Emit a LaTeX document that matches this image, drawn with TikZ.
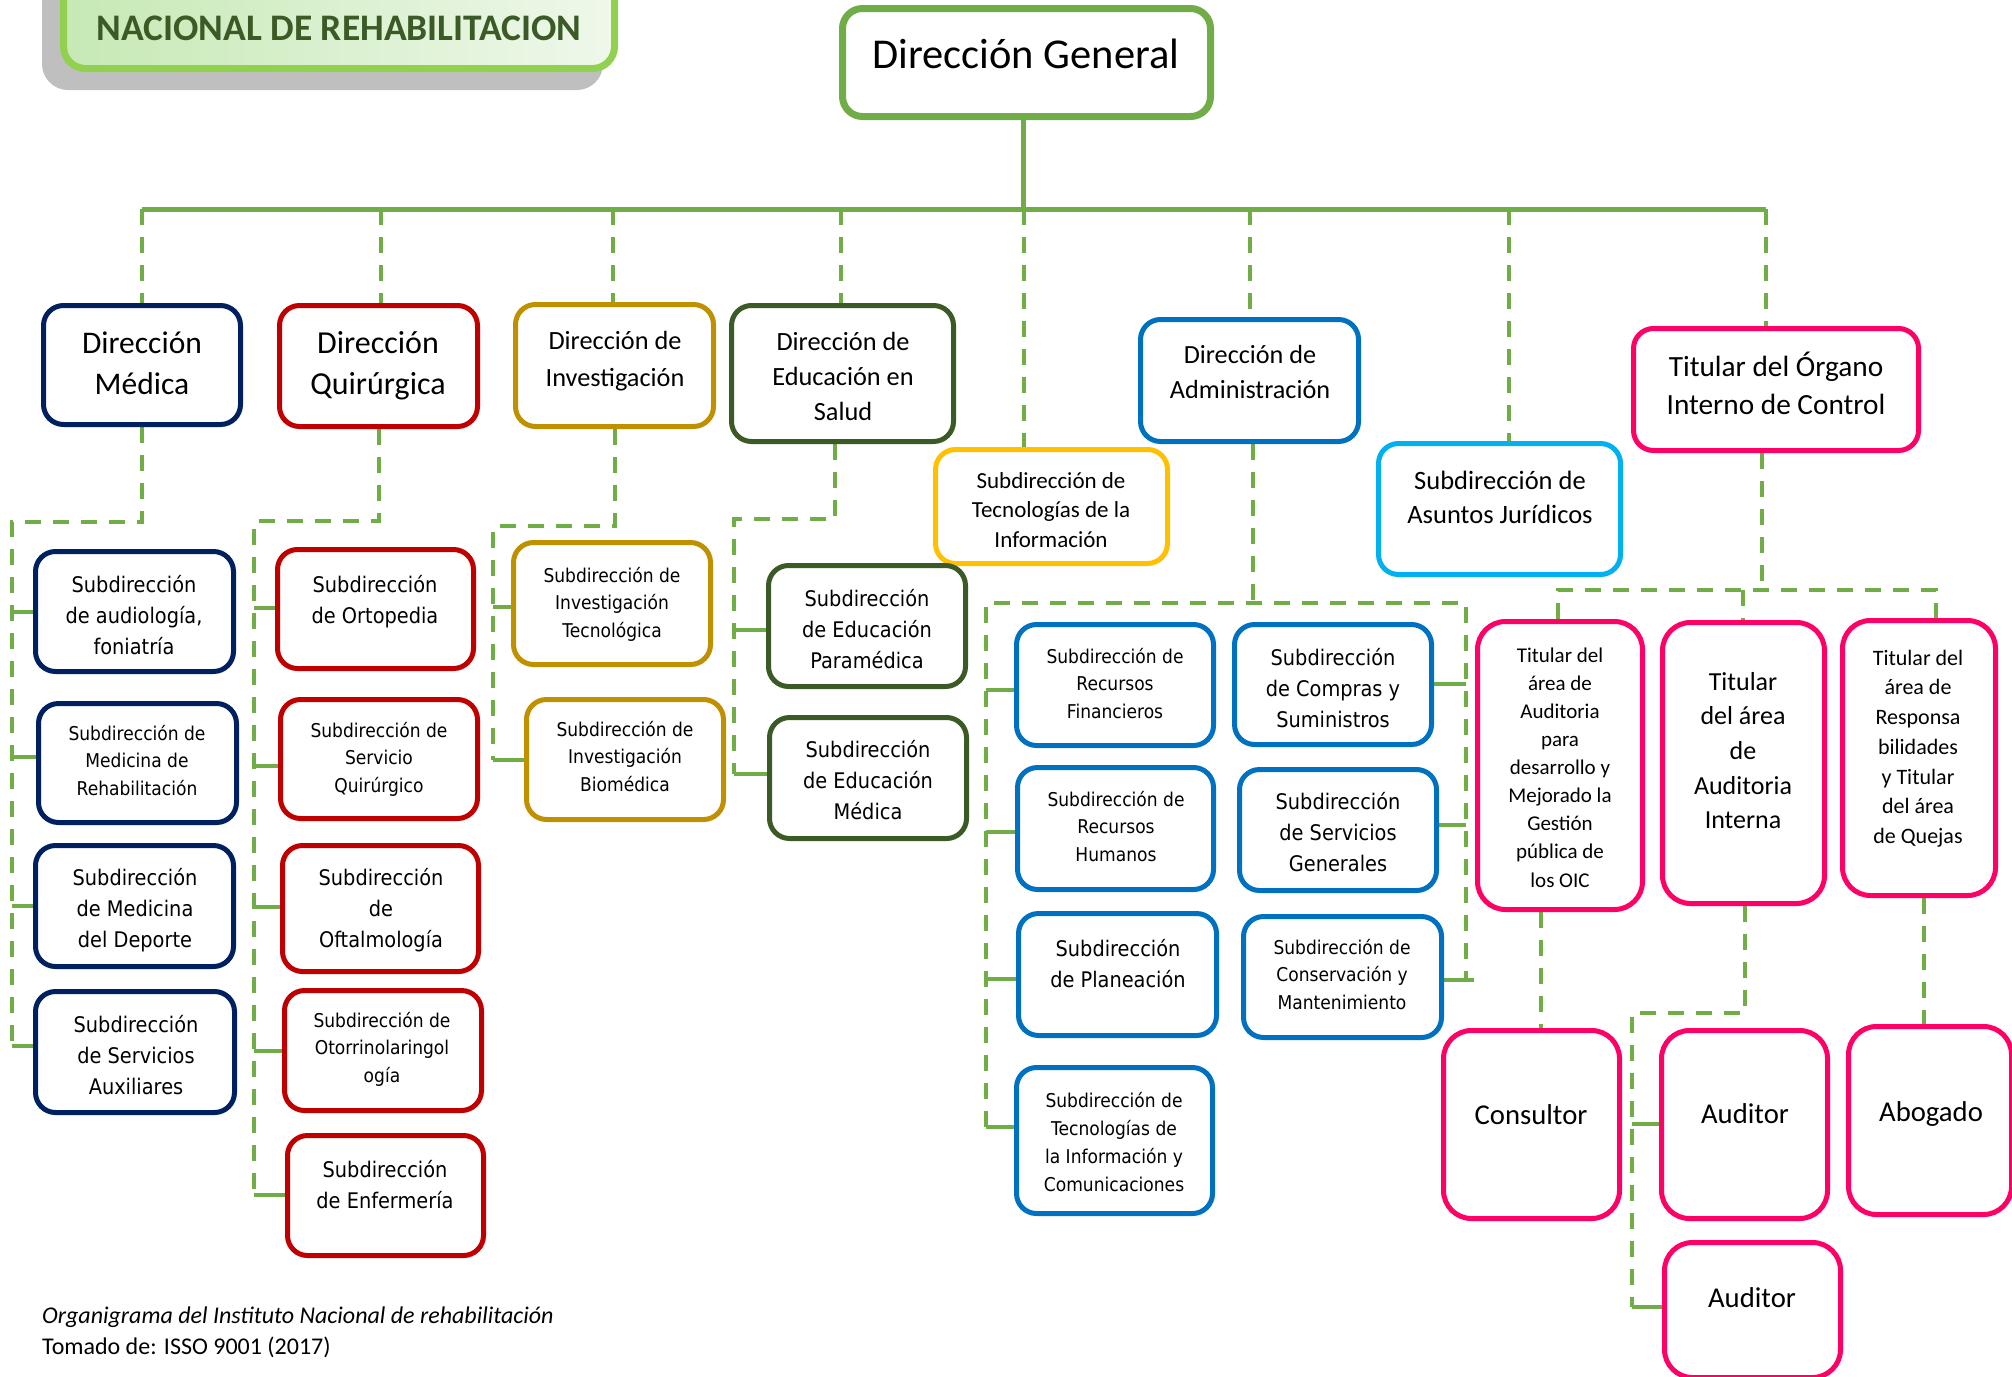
\documentclass[tikz,border=0pt]{standalone}
\usepackage{fontspec}
\setmainfont{Carlito}
\newfontfamily\vfont{DejaVu Sans}[FakeStretch=0.9]
\pgfdeclarelayer{bg}
\pgfsetlayers{bg,main}
\definecolor{lgreen}{HTML}{70AD47}
\definecolor{tgreen}{HTML}{92D050}
\definecolor{tfillL}{HTML}{C6E9B5}
\definecolor{tfillR}{HTML}{EFF8EB}
\definecolor{ttext}{HTML}{3B5A25}
\definecolor{shadowgray}{HTML}{BFBFBF}
\definecolor{navy}{HTML}{002060}
\definecolor{cred}{HTML}{C00000}
\definecolor{gold}{HTML}{BF9000}
\definecolor{dkgreen}{HTML}{3B5A25}
\definecolor{yel}{HTML}{FFC000}
\definecolor{cblue}{HTML}{0070C0}
\definecolor{lblue}{HTML}{00B0F0}
\definecolor{cpink}{HTML}{FF0066}
\tikzset{
  boxst/.style={draw, line width=5pt, rounded corners=20pt, fill=white, inner sep=0pt},
  dashg/.style={draw=lgreen, line width=4pt, dash pattern=on 16pt off 12pt},
  solg/.style={draw=lgreen, line width=5pt},
  stubg/.style={draw=lgreen, line width=4pt},
  txt/.style={anchor=north, align=center, inner sep=0pt, text=black},
}
% box: [extra]{name}{color}{x1}{y1}{x2}{y2}  (outer edges, pixels, y downward)
\newcommand\bx[7][]{\node[boxst, draw=#3, minimum width={#6-#4-5}, minimum height={#7-#5-5}, #1] (#2) at ({(#4+#6)/2},{(#5+#7)/2}) {};}
% text: {name}{x}{first baseline}{family}{size}{skip}{text}
\newcommand\tb[7]{\node[txt, font={#4\fontsize{#5}{#6}\selectfont}] (#1) at (#2,{#3-0.8*#5}) {\rule{0pt}{0.8em}#7};}
\begin{document}
\begin{tikzpicture}[x=1pt,y=-1pt]
\useasboundingbox (0,0) rectangle (2012,1376);

% title
\fill[shadowgray, rounded corners=26pt] (42,-40) rectangle (603,90);
\node[draw=tgreen, line width=7pt, rounded corners=22pt, left color=tfillL, right color=tfillR, minimum width=551pt, minimum height=107pt, inner sep=0pt] (title) at (339,15) {};
\node[anchor=base, inner sep=0pt, text=ttext, font={\bfseries\fontsize{37.5}{42}\selectfont}] (ttl) at (339,40) {NACIONAL DE REHABILITACION};

% top level
\bx[line width=7pt]{dg}{lgreen}{840}{6}{1213}{119}
\tb{tdg}{1026}{68}{}{42.5}{50}{Dirección General}

\bx{med}{navy}{41}{303}{243}{427}
\tb{tmed}{142}{353}{}{31.5}{41}{Dirección\\Médica}
\bx{qui}{cred}{277}{303}{480}{429}
\tb{tqui}{378}{353}{}{32}{41}{Dirección\\Quirúrgica}
\bx{inv}{gold}{513}{302}{716}{429}
\tb{tinv}{615}{349}{}{26.3}{37}{Dirección de\\Investigación}
\bx{edu}{dkgreen}{729}{303}{956}{444}
\tb{tedu}{843}{350}{}{26.3}{35}{Dirección de\\Educación en\\Salud}
\bx{ti}{yel}{933}{447}{1170}{566}
\tb{tti}{1051}{488}{}{23}{29.5}{Subdirección de\\Tecnologías de la\\Información}
\bx{adm}{cblue}{1138}{317}{1361}{444}
\tb{tadm}{1250}{363}{}{26.2}{35}{Dirección de\\Administración}
\bx{aju}{lblue}{1376}{441}{1623}{577}
\tb{taju}{1500}{489}{}{26.5}{34}{Subdirección de\\Asuntos Jurídicos}
\bx{oic}{cpink}{1631}{326}{1921}{453}
\tb{toic}{1776}{375}{}{29.3}{38}{Titular del Órgano\\Interno de Control}

% Medica
\bx{aud}{navy}{33}{549}{236}{674}
\tb{taud}{134}{592}{\vfont}{21.5}{31.3}{Subdirección\\de audiología,\\foniatría}
\bx{reh}{navy}{36}{701}{239}{825}
\tb{treh}{137}{740}{\vfont}{19}{27.7}{Subdirección de\\Medicina de\\Rehabilitación}
\bx{dep}{navy}{33}{843}{236}{969}
\tb{tdep}{135}{885}{\vfont}{21.5}{31.3}{Subdirección\\de Medicina\\del Deporte}
\bx{aux}{navy}{33}{989}{237}{1115}
\tb{taux}{136}{1032}{\vfont}{21.5}{31.3}{Subdirección\\de Servicios\\Auxiliares}

% Quirurgica
\bx{ort}{cred}{275}{547}{476}{671}
\tb{tort}{375}{592}{\vfont}{21.5}{31.3}{Subdirección\\de Ortopedia}
\bx{sq}{cred}{278}{697}{480}{821}
\tb{tsq}{379}{737}{\vfont}{19}{27.7}{Subdirección de\\Servicio\\Quirúrgico}
\bx{oft}{cred}{280}{843}{481}{974}
\tb{toft}{381}{885}{\vfont}{21.5}{31.3}{Subdirección\\de\\Oftalmología}
\bx{oto}{cred}{282}{988}{484}{1113}
\tb{toto}{382}{1027}{\vfont}{19}{27.7}{Subdirección de\\Otorrinolaringol\\ogía}
\bx{enf}{cred}{285}{1133}{486}{1258}
\tb{tenf}{385}{1177}{\vfont}{21.5}{31.3}{Subdirección\\de Enfermería}

% Investigacion
\bx{itec}{gold}{511}{540}{713}{667}
\tb{titec}{612}{582}{\vfont}{19}{27.7}{Subdirección de\\Investigación\\Tecnológica}
\bx{ibio}{gold}{524}{697}{726}{822}
\tb{tibio}{625}{736}{\vfont}{19}{27.7}{Subdirección de\\Investigación\\Biomédica}

% Educacion
\bx{epar}{dkgreen}{766}{563}{968}{689}
\tb{tepar}{867}{606}{\vfont}{21.5}{31.3}{Subdirección\\de Educación\\Paramédica}
\bx{emed}{dkgreen}{767}{715}{969}{841}
\tb{temed}{868}{757}{\vfont}{21.5}{31.3}{Subdirección\\de Educación\\Médica}

% Administracion
\bx{rf}{cblue}{1014}{622}{1216}{748}
\tb{trf}{1115}{663}{\vfont}{19}{27.7}{Subdirección de\\Recursos\\Financieros}
\bx{rh}{cblue}{1015}{765}{1216}{892}
\tb{trh}{1116}{806}{\vfont}{19}{27.7}{Subdirección de\\Recursos\\Humanos}
\bx{pla}{cblue}{1016}{911}{1219}{1038}
\tb{tpla}{1118}{956}{\vfont}{21.5}{31.3}{Subdirección\\de Planeación}
\bx{tic}{cblue}{1014}{1065}{1215}{1216}
\tb{ttic}{1114}{1107}{\vfont}{19}{28}{Subdirección de\\Tecnologías de\\la Información y\\Comunicaciones}
\bx{com}{cblue}{1232}{622}{1434}{747}
\tb{tcom}{1333}{665}{\vfont}{21.5}{31.3}{Subdirección\\de Compras y\\Suministros}
\bx{sg}{cblue}{1237}{767}{1439}{893}
\tb{tsg}{1338}{809}{\vfont}{21.5}{31.3}{Subdirección\\de Servicios\\Generales}
\bx{cm}{cblue}{1241}{914}{1444}{1040}
\tb{tcm}{1342}{954}{\vfont}{19}{27.7}{Subdirección de\\Conservación y\\Mantenimiento}

% OIC
\bx[rounded corners=28pt]{ad}{cpink}{1475}{619}{1645}{912}
\tb{tad}{1560}{662}{}{21}{28.1}{Titular del\\área de\\Auditoria\\para\\desarrollo y\\Mejorado la\\Gestión\\pública de\\los OIC}
\bx[rounded corners=28pt]{ai}{cpink}{1660}{620}{1827}{906}
\tb{tai}{1743}{690}{}{26}{34.6}{Titular\\del área\\de\\Auditoria\\Interna}
\bx[rounded corners=28pt]{ar}{cpink}{1840}{618}{1998}{898}
\tb{tar}{1918}{665}{}{22}{29.7}{Titular del\\área de\\Responsa\\bilidades\\y Titular\\del área\\de Quejas}
\bx[rounded corners=28pt]{cons}{cpink}{1441}{1028}{1622}{1221}
\tb{tcons}{1531}{1124}{}{28.7}{34}{Consultor}
\bx[rounded corners=28pt]{aud1}{cpink}{1659}{1028}{1830}{1221}
\tb{taud1}{1745}{1123}{}{28.7}{34}{Auditor}
\bx[rounded corners=28pt]{abo}{cpink}{1846}{1024}{2014}{1217}
\tb{tabo}{1931}{1121}{}{28.7}{34}{Abogado}
\bx[rounded corners=28pt]{aud2}{cpink}{1662}{1240}{1843}{1380}
\tb{taud2}{1752}{1307}{}{28.7}{34}{Auditor}

% caption
\node[anchor=base west, inner sep=0pt, font={\itshape\fontsize{24}{30}\selectfont}] (cap1) at (42,1323) {Organigrama del Instituto Nacional de rehabilitación};
\node[anchor=base west, inner sep=0pt, font={\fontsize{24}{30}\selectfont}] (cap2) at (42,1354) {Tomado de: ISSO 9001 (2017)};

% connectors
\begin{pgfonlayer}{bg}
\coordinate (busL) at (142,209);
\coordinate (busR) at (1766,209);
\coordinate (dgDrop) at (1023,209);
\draw[solg] (busL) -- (busR);
\draw[solg] (dg.south -| dgDrop) -- (dgDrop);
\foreach \n/\x in {med/142, qui/381, inv/613, edu/841, ti/1024, adm/1250, aju/1509, oic/1766}{
  \coordinate (d\n) at (\x,209);
  \draw[dashg] (d\n) -- (\n.north -| d\n);
}
% Medica
\coordinate (mTop) at (12,522);
\coordinate (mBot) at (12,1046);
\draw[dashg] (med.south) |- (mTop) -- (mBot);
\foreach \n/\y in {aud/612, reh/757, dep/906, aux/1046}
  \draw[stubg] (12,\y) -- (\n.west |- 0,\y);
% Quirurgica
\coordinate (qTop) at (254,521);
\coordinate (qBot) at (254,1195);
\draw[dashg] (qui.south) |- (qTop) -- (qBot);
\foreach \n/\y in {ort/608, sq/766, oft/907, oto/1051, enf/1195}
  \draw[stubg] (254,\y) -- (\n.west |- 0,\y);
% Investigacion
\coordinate (iTop) at (493,526);
\coordinate (iBot) at (493,760);
\draw[dashg] (inv.south) |- (iTop) -- (iBot);
\foreach \n/\y in {itec/607, ibio/760}
  \draw[stubg] (493,\y) -- (\n.west |- 0,\y);
% Educacion
\coordinate (eTop) at (734,519);
\coordinate (eBot) at (734,774);
\draw[dashg] (edu.south -| 835,0) |- (eTop) -- (eBot);
\foreach \n/\y in {epar/630, emed/774}
  \draw[stubg] (734,\y) -- (\n.west |- 0,\y);
% Administracion
\coordinate (aMid) at (1253,603);
\coordinate (aTL) at (986,603);
\coordinate (aTR) at (1466,603);
\coordinate (aBL) at (986,1127);
\coordinate (aBR) at (1466,980);
\draw[dashg] (adm.south -| aMid) -- (aMid);
\draw[dashg] (aBL) -- (aTL) -- (aTR) -- (aBR);
\foreach \n/\y in {rf/690, rh/832, pla/979, tic/1127}
  \draw[stubg] (986,\y) -- (\n.west |- 0,\y);
\foreach \n/\y in {com/684, sg/825}
  \draw[stubg] (1466,\y) -- (\n.east |- 0,\y);
\draw[stubg] (1474,980) -- (cm.east |- 0,980);
% OIC
\coordinate (oMid) at (1762,590);
\coordinate (oL) at (1558,590);
\coordinate (oC) at (1743,590);
\coordinate (oR) at (1936,590);
\draw[dashg] (oic.south -| oMid) -- (oMid);
\draw[dashg] (ad.north -| oL) -- (oL) -- (oR) -- (ar.north -| oR);
\draw[dashg] (oC) -- (ai.north -| oC);
\draw[dashg] (ad.south -| 1541,0) -- (cons.north -| 1541,0);
\coordinate (uTop) at (1632,1013);
\coordinate (uBot) at (1632,1307);
\draw[dashg] (ai.south -| 1745,0) |- (uTop) -- (uBot);
\foreach \n/\y in {aud1/1124, aud2/1307}
  \draw[stubg] (1632,\y) -- (\n.west |- 0,\y);
\draw[dashg] (ar.south -| 1924,0) -- (abo.north -| 1924,0);
\end{pgfonlayer}
\end{tikzpicture}
\end{document}
